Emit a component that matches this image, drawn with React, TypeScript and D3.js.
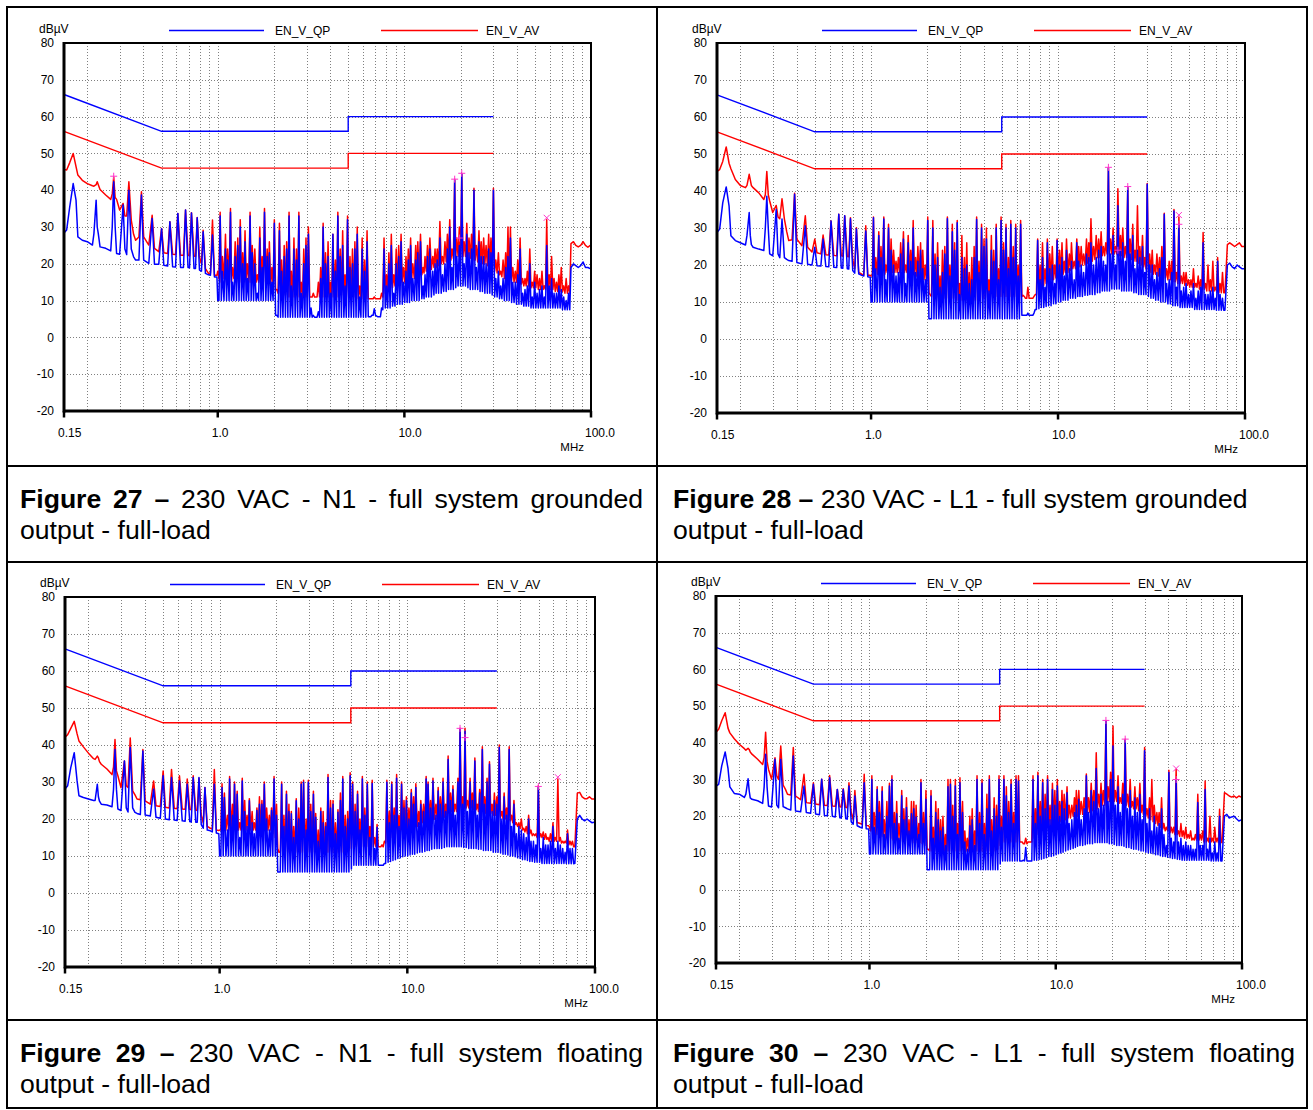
import React from 'react';
import * as d3 from 'd3';

// ---------- sweep frequencies (MHz) ----------
const FREQS = [
  0.150,0.155,0.161,0.168,0.174,0.178,0.188,0.200,0.213,0.217,
  0.223,0.226,0.229,0.234,0.251,0.267,0.272,0.277,0.282,0.287,
  0.298,0.311,0.318,0.325,0.334,0.344,0.354,0.363,0.378,0.390,
  0.401,0.427,0.445,0.458,0.483,0.500,0.514,0.539,0.554,0.573,
  0.594,0.611,0.632,0.655,0.672,0.693,0.706,0.723,0.746,0.760,
  0.776,0.798,0.818,0.835,0.859,0.892,0.914,0.937,0.960,0.990,
  1.00,1.03,1.06,1.10,1.13,1.17,1.20,1.24,1.28,1.32,
  1.36,1.40,1.44,1.49,1.53,1.58,1.63,1.68,1.73,1.78,
  1.84,1.89,1.95,2.01,2.07,2.14,2.20,2.27,2.34,2.41,
  2.48,2.56,2.64,2.72,2.80,2.89,2.97,3.06,3.16,3.25,
  3.35,3.46,3.56,3.67,3.78,3.90,4.02,4.14,4.27,4.40,
  4.53,4.67,4.81,4.96,5.11,5.27,5.43,5.59,5.76,5.94,
  6.12,6.31,6.50,6.70,6.90,7.11,7.33,7.55,7.78,8.02,
  8.26,8.51,8.77,9.04,9.32,9.60,9.89,10.2,10.5,10.8,
  11.1,11.5,11.8,12.2,12.6,12.9,13.3,13.7,14.2,14.6,
  15.0,15.5,16.0,16.5,17.0,17.5,18.0,18.6,19.1,19.7,
  20.3,20.9,21.6,22.2,22.9,23.6,24.3,25.1,25.8,26.6,
  27.4,28.3,29.1,30.0,30.9,31.9,32.8,33.8,34.9,35.9,
  37.0,38.1,39.3,40.5,41.7,43.0,44.3,45.6,47.0,48.4,
  49.9,51.4,53.0,54.6,56.2,57.9,59.7,61.5,63.4,65.3,
  67.3,69.3,71.4,73.6,75.8,78.1,80.5,82.9,85.4,88.0,
  90.7,93.4,96.2,99.0,
];
// in-between sweep points of the dense 1-78 MHz band (floor readings)
const FREQS_MID = [
  1.015,1.045,1.08,1.115,1.15,1.185,1.22,1.26,1.30,1.34,
  1.38,1.42,1.465,1.51,1.555,1.605,1.655,1.705,1.755,1.81,
  1.865,1.92,1.98,2.04,2.105,2.17,2.235,2.305,2.375,2.445,
  2.52,2.60,2.68,2.76,2.845,2.93,3.015,3.11,3.205,3.30,
  3.405,3.51,3.615,3.725,3.84,3.96,4.08,4.205,4.335,4.465,
  4.60,4.74,4.885,5.035,5.19,5.35,5.51,5.675,5.85,6.03,
  6.215,6.405,6.60,6.80,7.005,7.22,7.44,7.665,7.90,8.14,
  8.385,8.64,8.905,9.18,9.46,9.745,10.05,10.35,10.65,10.95,
  11.3,11.65,12.0,12.4,12.75,13.1,13.5,13.95,14.4,14.8,
  15.25,15.75,16.25,16.75,17.25,17.75,18.3,18.85,19.4,20.0,
  20.6,21.25,21.9,22.55,23.25,23.95,24.7,25.45,26.2,27.0,
  27.85,28.7,29.55,30.45,31.4,32.35,33.3,34.35,35.4,36.45,
  37.55,38.7,39.9,41.1,42.35,43.65,44.95,46.3,47.7,49.15,
  50.65,52.2,53.8,55.4,57.05,58.8,60.6,62.45,64.35,66.3,
  68.3,70.35,72.5,74.7,76.95,
];

// ---------- Figure 27 ----------
const RED_27 = [
  45.6,45.5,47.5,50,46.4,44.1,42.7,41.8,41.2,41.1,
  41.5,42.3,41.5,40.2,38.7,37.5,39,43.6,38,37.5,
  34.6,36.4,33,33,42.3,31.9,28,26.4,27.3,39.6,
  27.3,25.1,33.2,24.2,23.3,29.6,23,22.8,31.4,22.6,
  22.5,33.7,22.3,22.3,34.6,22.3,22.2,33.9,22.1,22,
  32.6,21.9,20,29.1,18.7,17.4,17.5,31.9,16.9,16.9,
  18,34,22,28,24,35,19,26,27,32,
  23,29,20,34,25,24,17,30,22,35,
  24,26,19,32,13,31,21,25,26,34,
  18,27,24,34,15,24,27,30,11,12,
  11,15,19,31,23,26,15,28,21,34,
  24,29,17,33,22,24,26,30,14,27,
  21,29,10.5,10.5,11,10.5,10.5,12,27,17,
  23,28,17,24,25,28,19,22,24,27,
  20,25,26,28,19,22,25,27,22,24,
  24,31.5,22,26,28,32,24,43,27,30,
  44.5,26,31,27,28,40.5,25,29,26,27,
  25,28,27,40.5,21,23,18,21,23,30,
  30,19,18,21,27,16,16,18,24,15,
  18,17,16,18,14,32,17,22,16,15,
  17,19,14,16,14,25.5,26,25,24.6,25,
  26,25,24.5,25,
];
const RED_27_MID = [
  16,15,16,15,16,15,16,15,16,15,
  15,16,15,15,16,15,15,16,15,15,
  15,14,14,13,12,12,11.5,11.5,11,11,
  11,11,11,11,11,11,11,11,11,11,
  11,11,11,11,11,11,11,11,11,11,
  11.5,11.5,11,11,11,11,11,10.5,10.5,10.5,
  10.5,10.5,10.5,10.5,10.5,10.5,10.5,11,12,13,
  13,13.5,14,14,14.5,15,15,15.5,16,16,
  16,16.5,17,17,17.5,18,18,18.5,19,19,
  19.5,20,20,20.5,21,21,21.5,22,22,22,
  22,22,21.5,21.5,21,21,20.5,20.5,20,20,
  19.5,19,18.5,18,17.5,17,16.5,16,16,15.5,
  15.5,15,15,14.5,14.5,14,14,14,13.5,13.5,
  13.5,13,13,13,13,13,13,13,12.5,12.5,
  12.5,12.5,12,12,12,
];
const BLUE_27 = [
  28.4,29.2,35.5,41.8,37.3,27.3,26.4,26,25.1,28.2,
  37.3,30,28.2,24.6,24.2,23.5,30,42.3,30,22.8,
  22.6,36,24,22.5,40,24,21.9,21,21,38.7,
  21,20.1,32.3,19.9,19.9,29.5,19.6,19.4,31.4,19.2,
  19.1,33.7,19,19,34.6,19,18.9,33.8,18.7,18.7,
  32.5,18.3,18,28.7,17.4,17,16.9,27.8,16.4,16.4,
  10,33,18,24,21,34,15,22,25,30,
  20,26,16,33,23,20,12,27,19,34,
  22,23,15,31,6,29,18,22,24,33,
  14,24,21,33,12,20,25,28,8,6,
  5.5,7,16,30,20,22,12,28,18,33,
  22,25,14,32,19,20,24,28,11,24,
  18,26,5.6,6,7.8,5.8,5.6,8,24,14,
  20,25,12,20,22,26,15,18,21,25,
  16,21,23,26,14,17,22,24,18,20,
  21,27,17,20,24,30,19,42.7,22,25,
  44.4,20,28,23,24,40,19,26,22,22,
  20,24,23,40,16,18,14,16,19,22,
  27,15,15,17,24,12,13,14,20,11,
  15,12,13,14,11,25,14,16,12,12,
  14,13,11,10,12,19,20,19.5,19,19.5,
  20.5,19,19,18.7,
];
const BLUE_27_MID = [
  10,10,10,10,10,10,10,10,10,10,
  10,10,10,10,10,10,10,10,10,10,
  10,10,10,6,5.5,5.5,5.5,5.5,5.5,5.5,
  5.5,5.5,5.5,5.5,5.5,5.5,5.5,5.5,5.5,5.5,
  5.5,5.5,5.5,5.5,5.5,5.5,5.5,5.5,5.5,5.5,
  5.5,5.5,5.5,5.5,5.5,5.5,5.5,5.5,5.5,5.5,
  5.5,5.6,5.6,6,6,5.6,5.6,7.5,8,8,
  8,8.5,8.5,9,9,9,9.5,9.5,9.5,10,
  10,10,10,10.5,10.5,11,11,11,11.5,12,
  12,12,12.5,12.5,13,13,13,13.5,14,14,
  14,14,13.5,13,13,13,13,12.5,12.5,12,
  12,12,11.5,11,11,10.5,10.5,10,10,10,
  9.5,9.5,9,9,9,8.5,8.5,8.5,8,8,
  8,8,8,8,8,8,8,8,8,8,
  8,7.5,7.5,7.5,7.5,
];
const MARKS_27 = [[0.277,43.8,'+'],[18.6,43,'+'],[20.3,44.6,'+'],[19.7,27,'+'],[57.9,32.5,'x']];

// ---------- Figure 28 ----------
const RED_28 = [
  45.3,45.8,48,51.9,47.5,46,43.1,41.5,40.9,41.5,
  44.5,43,41.5,40.9,39.5,37.7,39,45.3,39,37.3,
  34.2,36.1,33,32.5,37.9,32.4,29,26.6,26.8,39.4,
  27,25.2,33.3,24.8,23.5,27,23.3,23,28.1,22.8,
  22.7,31.9,22.6,22.5,33.7,22.5,22.4,33.3,22.3,22.2,
  32.8,21.5,19,30.1,18,17.5,17.3,30.6,17.2,17.2,
  17,33,22,29,25,33,20,31,27,24,
  21,22,26,29,20,28,24,32,22,25,
  26,24,20,33,12,32,23,26,17,24,
  25,33,20,31,26,32,15,28,22,26,
  18,22,25,33,21,31,27,30,16,28,
  24,31,19,33,26,31,22,32,25,31,
  20,32,11.8,11,14,11,11,12,27,20,
  26,19,27,23,25,20,27,24,26,21,
  27,23,26,21,27,25,25,23,27,26,
  32.5,25,28,27,29,25,26,46.2,27,30,
  25,40.6,28,30,25,41,27,31,24,36,
  25,28,22,42,23,24,20,23,22,25,
  34,19,21,21,35,18,33,17,18,18,
  16,16,19,15,17,16,28.8,15,20,16,
  21,14,22,15,18,12.5,25.5,26,25.5,25,
  25.5,26,25,25,
];
const RED_28_MID = [
  17,17,17.5,17,17,17.5,18,17.5,18,18,
  18,18,18.5,18,18,18,17.5,17.5,17,17,
  16.5,16,15,12.5,11.5,11,11,11,11,11,
  11,11,11,11,10.5,10.5,10.5,10.5,10.5,10.5,
  10.5,10.5,10.5,11,11,11,11,11,11.5,11.5,
  11.5,11.5,11.5,11.5,11.5,11.5,11.5,11.5,11.5,11.5,
  11.5,11.5,11.5,11,11,11,11.5,12,13,14,
  14.5,15,15.5,16,16,16.5,17,17,17.5,18,
  18,18.5,19,19,19.5,19.5,20,20,20.5,21,
  21,21.5,22,22,22.5,22.5,23,23,23,23,
  23,22.5,22.5,22,22,21.5,21.5,21,21,20.5,
  20,19.5,19,18.5,18,17.5,17.5,17,17,16.5,
  16.5,16,16,15.5,15.5,15,15,15,14.5,14.5,
  14,14,14,14,13.5,13.5,13.5,13,13,13,
  13,13,12.5,12.5,12.5,
];
const BLUE_28 = [
  28.8,29.7,36.8,41.1,36,27.9,26.6,26,25.4,28,
  34.2,28,25.5,24.8,24.3,23.9,30,38.6,30,23,
  22.5,35,23,22,32.4,22,21.5,21.2,21,39.1,
  20.7,20.3,30.6,20.2,20,24.8,19.8,19.7,27,19.6,
  19.5,31.9,19.4,19.3,33.7,19.2,19.1,33.3,19,18.9,
  32.5,18.5,17.8,29.7,17.6,17.2,17,29.2,16.8,16.7,
  10,32.8,19,28,22,32.4,16,30,24,20,
  17,18,23,27,15,26,21,30,18,21,
  24,19,16,32,5.5,30,20,22,14,18,
  23,32.5,17,29,24,31.4,12,22,19,20,
  15,16,22,32.3,18,30,25,27,13,24,
  21,30,16,32,24,30,19,31,22,30,
  17,31,6.4,6.4,7,6.4,6.4,8,26.6,16,
  22,14,26,19,20,15,26.6,20,22,17,
  24,19,21,16,26,21,20,18,23,22,
  26,20,22,24,25,21,20,46.2,23,28,
  20,36,24,26,21,40.9,23,28,19,24,
  22,25,18,41.8,20,20,16,18,19,22,
  33.7,15,16,18,34.6,14,31,13,14,15,
  12,13,15,11,13,14,26,12,12,13,
  14,11,21,12,11,7.8,20,20.5,19.5,19,
  20,19.5,19,19,
];
const BLUE_28_MID = [
  10,10,10,10,10,10,10,10,10,10,
  10,10,10,10,10,10,10,10,10,10,
  10,10,10,5.5,5.5,5.5,5.5,5.5,5.5,5.5,
  5.5,5.5,5.5,5.5,5.5,5.5,5.5,5.5,5.5,5.5,
  5.5,5.5,5.5,5.5,5.5,5.5,5.5,5.5,5.5,5.5,
  5.5,5.5,5.5,5.5,5.5,5.5,5.5,5.5,5.5,5.5,
  5.5,6.4,6.4,6.4,6.4,6.4,7,8,8.2,8.5,
  8.5,8.8,9,9,9.5,9.5,10,10,10.5,10.5,
  10.5,11,11,11,11.5,11.5,11.5,11.8,11.8,12,
  12,12,12.5,12.5,13,13,13,13,13.5,13.5,
  13.5,13.5,13,13,13,13,13,12.5,12.5,12,
  12,12,12,11.5,11,11,10.5,10.5,10,10,
  10,9.5,9.5,9,9,9,8.5,8.5,8.5,8.5,
  8.5,8.5,8,8,8,8,8,8,8,8,
  8,7.8,7.8,7.8,7.8,
];
const MARKS_28 = [[18.6,46.4,'+'],[20.9,24,'+'],[23.6,41.2,'+'],[44.3,33.5,'x'],[44.3,31,'+']];

// ---------- Figure 29 ----------
const RED_29 = [
  42.1,42.8,44.5,46.4,43,41.1,39.5,37.8,36.3,36.1,
  37,36.5,35.5,34.8,33.5,32,34,41.5,33,31.7,
  28.5,35.7,29,28.5,41.9,27.6,26.5,25.4,25.2,38.8,
  24.9,24,30.3,23.6,23.4,33,23.2,23,33.4,22.9,
  22.8,31.7,22.7,22.6,30.8,22.6,22.5,31.7,22.4,22.3,
  31,21,19,28.5,18,17.5,17.3,33.4,17,16.9,
  17,29.5,27,21,31.5,24,30,27.5,19,31,
  25,21,25.5,22,19,23,26,25,30,23,
  21,23,31.5,24,11,30,21,27.5,24,22,
  18,25.5,23,30,30.5,20,30.5,24,27.5,21.5,
  17,23,22,19,32,25,25,19,22.5,27,
  31.5,21,22,32.5,30,24,27.5,20,31.5,23,
  30,18,30.5,15,18.5,12.5,13,14,30.5,22,
  30,23,32,21,30,25,26,23,28,26,
  29.5,22,25,24,31.5,30,25,31,24,28.5,
  26,31,24,37,27,29,24,31,44.5,26,
  44.5,25,31,27,36.5,24,28,39.5,26,31,
  35.5,24,27,26,40,22,27,23,39.5,21,
  25,19,19,20,17.5,18,21,17,16,16,
  29,16,16.5,16,15,16,19,15,30.8,15,
  14,14,17,14,14,12.5,27,27.2,26,25.5,
  25.5,26,25.4,25.4,
];
const RED_29_MID = [
  17,17,17,17,17,17,17,17,17,17,
  17,17,17,17,17,17,17,17,17,17,
  17,16,15,12,11,11,11,11,11,11,
  11,11,11,11,11,11,11,11,11,11,
  11,11,11,11,11,11,11,11,11,11,
  11,11,11.5,12,12.5,12.5,12.5,12.5,12.5,12.5,
  12.5,12.5,12.5,12.5,12.5,12.5,12.5,13.5,14.5,15,
  15.5,16,16,16.5,17,17,17,17.5,18,18,
  18,18.5,19,19,19,19.5,19.5,20,20,20,
  20,20.5,21,21.5,22,22,22,22.5,23,23,
  23,23,23,22.5,22.5,22,22,22,21.5,21.5,
  21.5,21,21,20.5,20.5,20,20,19.5,19.5,19,
  18.5,18,17.5,17,16.5,16,16,15.5,15.5,15,
  15,15,14.5,14.5,14,14,14,14,14,13.5,
  13.5,13.5,13,13,12.5,
];
const BLUE_29 = [
  28.1,29,33.9,37.9,30.3,26.3,25.8,25.4,25,25,
  29.4,26,24.8,24,23.8,23.3,28,38.8,28,22.7,
  22.3,35.7,23,21.9,39.3,23,21.8,21.5,21.2,38.4,
  21.1,20.8,28.1,20.5,20.2,31.7,20,19.8,31.2,19.7,
  19.6,30.3,19.5,19.4,29.4,19.3,19.2,31.2,19.1,19.1,
  31.2,18.5,17.5,28.5,17,16.8,16.5,29.4,16.2,16,
  10,28.5,25.8,17,30.8,21,29.4,26.7,15,30.3,
  22,18,24.9,19,16,22.3,24,24,29.4,20,
  17,22.3,30.8,21,5.7,29.4,18,26.7,22,21.4,
  15,24.9,20,29.4,29.9,17,29.9,22,26.7,20.5,
  14,22,19,18,31.2,23,24,16,21.8,25,
  30.8,18,20,31.7,29.4,22,26.7,17,30.8,21,
  29.4,15,29.6,12,17.8,7.5,7.5,8,29.9,19,
  29.4,21,31,18,29.4,23,25,20,27,24,
  28.5,19,24,22,30.8,29.4,23,30.3,21,27.6,
  24,30,22,36.1,25,28,21,30,44.2,24,
  43.7,22,30,25,35.7,21,27,38.8,24,30,
  34.8,22,25,24,39.3,20,26,21,38.8,18,
  24,16,18,17,16,15,20,14,14,13,
  28.5,12,15,13,13,14,18,12,14,13,
  12,11,16,12,12,8,20,21,20,19.5,
  20,19.5,19,19.1,
];
const BLUE_29_MID = [
  10,10,10,10,10,10,10,10,10,10,
  10,10,10,10,10,10,10,10,10,10,
  10,10,10,5.7,5.7,5.7,5.7,5.7,5.7,5.7,
  5.7,5.7,5.7,5.7,5.7,5.7,5.7,5.7,5.7,5.7,
  5.7,5.7,5.7,5.7,5.7,5.7,5.7,5.7,5.7,5.7,
  5.7,5.7,5.7,6.5,7.5,7.5,7.5,7.5,7.5,7.5,
  7.5,7.5,7.5,7.5,7.5,7.5,7.5,8,8.3,8.5,
  8.8,9,9.3,9.5,9.8,10,10,10.3,10.5,10.5,
  10.8,11,11,11.2,11.5,11.5,11.8,12,12,12,
  12,12.3,12.5,12.5,12.5,12.5,12.5,12.5,12.5,12.3,
  12.3,12,12,12,12,11.8,11.8,11.5,11.5,11.5,
  11.5,11,11,11,10.8,10.5,10.5,10.3,10,10,
  9.8,9.5,9.3,9,9,8.8,8.5,8.5,8.3,8.3,
  8.3,8,8,8,8,8,8,8,8,8,
  8,8,7.9,7.9,7.9,
];
const MARKS_29 = [[19.1,44.5,'+'],[20.3,42,'+'],[49.9,28.8,'+'],[63.4,31.3,'x']];

// ---------- Figure 30 ----------
const RED_30 = [
  42.9,43.7,46,48.2,44,42.7,41.1,39.6,38.4,38,
  38.5,38.2,37.5,36.9,35.5,34.1,36,42.9,35,32.8,
  30.1,35.9,31,30,39.1,28.5,27.3,26,25.8,38.7,
  25.5,24.5,31.4,23.7,23.5,29.1,23.3,23.1,30.1,23,
  22.9,31.1,22.8,22.7,27.3,22.6,22.5,27.5,22.4,22.3,
  29.1,21,19,27,18.3,18,17.8,31.4,17.5,17.4,
  17,31,21,28,24,28,19,24,29,31,
  21,24,18,27,22,25,19,24,24,23,
  18,30,21,27,11,27,17,24,22,19,
  20,15,30,30,23,30,18,30.5,24,16,
  14,20,22,16,31,21,30,18,26,31,
  19,25,23,31,20,31,28,24,30,21,
  31,31,13,12.5,14,13,13,31,22,32,
  24,30,26,31,23,29,27,30,24,27,
  26,28,23,23,25,27,27,24,25,31.5,
  25,29,27,37.3,26,29,27,46,28,32,
  44.6,27,31,25,29,41,26,30,24,28,
  25,29,23,38.7,22,25,30,23,21,21,
  25,18,17,32.5,17,17,32.8,16,18,16,
  17,15,16,14,15,26,15,16,29.6,14,
  20,14,17,14,21.9,12.8,26.4,26,25.5,25.2,
  25.5,25,25.5,25.2,
];
const RED_30_MID = [
  16,15.5,15,15,14.5,14.5,14,14,14,13.5,
  13.5,13.5,13,13,13,13,13,12.8,12.8,12.8,
  12.8,12.5,12,11,10.5,10.5,10.5,10.5,10.5,10.5,
  10.5,10.5,10.5,10.5,10.5,10.5,10.5,10.5,10.5,10.5,
  10.5,10.5,10.5,10.5,10.5,10.5,10.5,10.5,10.5,10.5,
  10.5,10.5,11,12,13,13,13,13,13,13,
  13,13,13,12.5,12.5,13,13,14,15,15.5,
  16,16.5,17,17,17.5,18,18,18.5,18.5,19,
  19,19.5,19.5,20,20,20,20.5,20.5,21,21,
  21,21.5,22,22,22.5,23,23,23.5,24,24,
  24,24,23.5,23.5,23,23,22.5,22.5,22,22,
  21.5,21,20.5,20,19.5,19,18.5,18,17.5,17,
  16.5,16,16,15.5,15.5,15,15,14.5,14.5,14,
  14,14,13.5,13.5,13.5,13.5,13.5,13,13,13,
  13,13,13,12.8,12.8,
];
const BLUE_30 = [
  28.2,28.7,33.7,37.5,33,28,26.2,26,25.1,26,
  30.2,27,25,24.6,24.2,23.5,28,36.9,28,22.8,
  22.5,35.5,23,22.3,35.5,22.6,22.3,22,21.7,36.4,
  21.4,21.2,28.2,21,20.8,28.7,20.6,20.4,30.1,20.2,
  20.1,30.5,20,19.8,27.3,19.6,19.5,27.3,19.3,19.2,
  28.2,18.5,17.8,25.5,17.4,17,16.8,29.1,16.6,16.5,
  9.7,30,17,27.3,21,26.8,15,20,28.2,30,
  18,20.7,14,25.6,19,22.4,16,20.7,22,19.8,
  15,29.1,18,24.6,5.4,25.5,14,21,19,16,
  17,12,28,28.7,20,28.2,15,29.1,21,13,
  11,17.4,19,12,30,18,29,15,22,30,
  16,22,20,30,17,30,25.6,21,28.7,18,
  30,29.5,7.8,8,11.5,7.8,7.8,30,18,31,
  20,29.1,22,30,19,27.3,23,28.2,20,24,
  22,26.4,18,19,21,23,24.6,19,22,31,
  21,27,24,33,22,26,23,45.9,24,30,
  39.1,23,28,21,26,40.7,22,27,20,25,
  21,26,19,37.8,18,22,16,20,17,18,
  22,15,12,31.9,14,13,30,13,14,12,
  13,12,12,11,11,23.7,12,12,27.3,11,
  14,10,13,10,20,7.8,20,20.5,19.5,19.8,
  20,19.3,18.7,19,
];
const BLUE_30_MID = [
  9.7,9.7,9.7,9.7,9.7,9.7,9.7,9.7,9.7,9.7,
  9.7,9.7,9.7,9.7,9.7,9.7,9.7,9.7,9.7,9.7,
  9.7,9.7,9.7,5.4,5.4,5.4,5.4,5.4,5.4,5.4,
  5.4,5.4,5.4,5.4,5.4,5.4,5.4,5.4,5.4,5.4,
  5.4,5.4,5.4,5.4,5.4,5.4,5.4,5.4,5.4,5.4,
  5.4,5.4,5.4,7,7.8,7.8,7.8,7.8,7.8,7.8,
  7.8,7.8,7.8,7.8,7.8,7.8,7.8,8,8,8.2,
  8.3,8.5,8.7,9,9,9.2,9.5,9.8,10,10.2,
  10.5,10.8,11,11.2,11.5,11.8,12,12,12.2,12.5,
  12.5,12.5,12.8,12.8,12.8,12.8,12.8,12.8,12.5,12.5,
  12.3,12,12,12,11.8,11.5,11.5,11.2,11,11,
  10.8,10.5,10.5,10.2,10,10,9.8,9.5,9.5,9.2,
  9,9,8.8,8.7,8.5,8.5,8.3,8.2,8,8,
  8,8,8,8,8,8,8,8,8,8,
  7.8,7.8,7.8,7.8,7.8,
];
const MARKS_30 = [[18.6,46.1,'+'],[23.6,41,'+'],[44.3,33,'x'],[44.3,30,'+']];

// ---------- limits, axes ----------
const QP_LIMIT = [[0.15,66],[0.5,56],[5,56],[5,60],[30,60]];
const AV_LIMIT = [[0.15,56],[0.5,46],[5,46],[5,50],[30,50]];
const X_TICKS = [0.15, 1, 10, 100];
const X_TICK_LABELS = ['0.15', '1.0', '10.0', '100.0'];
const Y_TICKS = [80, 70, 60, 50, 40, 30, 20, 10, 0, -10, -20];
const GRID_FREQS = [0.2,0.3,0.4,0.5,0.6,0.7,0.8,0.9,1,2,3,4,5,6,7,8,9,10,20,30,40,50,60,70,80,90];
const LEGEND = ['EN_V_QP', 'EN_V_AV'];

const FONT = '"Liberation Sans", Arial, Helvetica, sans-serif';
const BLUE = '#0000ff';
const RED = '#ff0000';
const MAGENTA = '#ff33cc';

const PANELS = [
  { id: 'p27', left: 64, right: 591, top: 43, bottom: 411, red: RED_27, redMid: RED_27_MID, blue: BLUE_27, blueMid: BLUE_27_MID, marks: MARKS_27 },
  { id: 'p28', left: 717, right: 1245, top: 43, bottom: 413, red: RED_28, redMid: RED_28_MID, blue: BLUE_28, blueMid: BLUE_28_MID, marks: MARKS_28 },
  { id: 'p29', left: 65, right: 595, top: 597, bottom: 967, red: RED_29, redMid: RED_29_MID, blue: BLUE_29, blueMid: BLUE_29_MID, marks: MARKS_29 },
  { id: 'p30', left: 716, right: 1242, top: 596, bottom: 963, red: RED_30, redMid: RED_30_MID, blue: BLUE_30, blueMid: BLUE_30_MID, marks: MARKS_30 },
];

const CAPTIONS = [
  { num: 'Figure 27 –', text: '230 VAC - N1 - full system grounded', line2: 'output - full-load', x: 20, w: 623, y: 507.5, justify: true },
  { num: 'Figure 28 –', text: '230 VAC - L1 - full system grounded', line2: 'output - full-load', x: 673, w: 622, y: 507.5, justify: false },
  { num: 'Figure 29 –', text: '230 VAC - N1 - full system floating', line2: 'output - full-load', x: 20, w: 623, y: 1061.5, justify: true },
  { num: 'Figure 30 –', text: '230 VAC - L1 - full system floating', line2: 'output - full-load', x: 673, w: 622, y: 1061.5, justify: true },
];
const CAP_FS = 26.6;

let measureCtx: CanvasRenderingContext2D | null = null;
function measure(text: string, font: string) {
  if (!measureCtx) measureCtx = document.createElement('canvas').getContext('2d');
  measureCtx!.font = font;
  return measureCtx!.measureText(text).width;
}

function series(main: number[], mid: number[]) {
  const n = Math.min(FREQS.length, main.length);
  const m = Math.min(FREQS_MID.length, mid.length);
  const pts = d3.range(n).map((i) => [FREQS[i], main[i]]);
  const pts2 = d3.range(m).map((i) => [FREQS_MID[i], mid[i]]);
  return pts.concat(pts2).sort((a, b) => a[0] - b[0]);
}

function Panel({ cfg }: any) {
  const x = d3.scaleLog().domain([0.15, 100]).range([cfg.left, cfg.right]);
  const y = d3.scaleLinear().domain([-20, 80]).range([cfg.bottom, cfg.top]);
  const line = d3.line<any>().x((d) => x(d[0])).y((d) => y(d[1]));
  const redPts = series(cfg.red, cfg.redMid);
  const bluePts = series(cfg.blue, cfg.blueMid);
  const legY = cfg.top - 12.5;
  return (
    <g>
      <defs>
        <clipPath id={`clip-${cfg.id}`}>
          <rect x={cfg.left} y={cfg.top} width={cfg.right - cfg.left} height={cfg.bottom - cfg.top} />
        </clipPath>
      </defs>
      {GRID_FREQS.map((f) => (
        <line key={'gx' + f} x1={Math.round(x(f)) + 0.5} x2={Math.round(x(f)) + 0.5} y1={cfg.top} y2={cfg.bottom}
          stroke="#808080" strokeWidth={1} strokeDasharray="1,2" />
      ))}
      {Y_TICKS.filter((v) => v > -20 && v < 80).map((v) => (
        <line key={'gy' + v} x1={cfg.left} x2={cfg.right} y1={Math.round(y(v)) + 0.5} y2={Math.round(y(v)) + 0.5}
          stroke="#808080" strokeWidth={1} strokeDasharray="1,2" />
      ))}
      <path d={line(QP_LIMIT as any)!} fill="none" stroke={BLUE} strokeWidth={1.4} />
      <path d={line(AV_LIMIT as any)!} fill="none" stroke={RED} strokeWidth={1.4} />
      <g clipPath={`url(#clip-${cfg.id})`}>
        <path d={line(redPts as any)!} fill="none" stroke={RED} strokeWidth={1.5} strokeLinejoin="round" />
        <path d={line(bluePts as any)!} fill="none" stroke={BLUE} strokeWidth={1.5} strokeLinejoin="round" />
        {cfg.marks.map((m: any, i: number) => {
          const cx = x(m[0]), cy = y(m[1]);
          return m[2] === 'x' ? (
            <path key={i} d={`M${cx - 3},${cy - 3}L${cx + 3},${cy + 3}M${cx - 3},${cy + 3}L${cx + 3},${cy - 3}`} stroke={MAGENTA} strokeWidth={1} />
          ) : (
            <path key={i} d={`M${cx - 3.5},${cy}L${cx + 3.5},${cy}M${cx},${cy - 3.5}L${cx},${cy + 3.5}`} stroke={MAGENTA} strokeWidth={1} />
          );
        })}
      </g>
      <rect x={cfg.left} y={cfg.top} width={cfg.right - cfg.left} height={cfg.bottom - cfg.top} fill="none" stroke="#000" strokeWidth={2} />
      <line x1={cfg.left} x2={cfg.left} y1={cfg.top - 1} y2={cfg.bottom + 1.5} stroke="#000" strokeWidth={3} />
      <line x1={cfg.left} x2={cfg.right + 1} y1={cfg.bottom} y2={cfg.bottom} stroke="#000" strokeWidth={3} />
      {X_TICKS.map((t) => (
        <line key={'xt' + t} x1={x(t)} x2={x(t)} y1={cfg.bottom} y2={cfg.bottom + 6.5} stroke="#000" strokeWidth={2.5} />
      ))}
      <g fontFamily={FONT} fontSize={12} fill="#000">
        {Y_TICKS.map((v) => (
          <text key={'yl' + v} x={cfg.left - 10} y={y(v) + 4.2} textAnchor="end">{v}</text>
        ))}
        {X_TICKS.map((t, i) => (
          <text key={'xl' + t} x={x(t) - 6} y={cfg.bottom + 25.5}>{X_TICK_LABELS[i]}</text>
        ))}
        <text x={cfg.right - 7} y={cfg.bottom + 39.5} textAnchor="end" fontSize={11.5}>MHz</text>
        <text x={cfg.left - 25} y={cfg.top - 10}>dBµV</text>
        <line x1={cfg.left + 105} x2={cfg.left + 200} y1={legY} y2={legY} stroke={BLUE} strokeWidth={1.3} />
        <text x={cfg.left + 211} y={cfg.top - 8}>{LEGEND[0]}</text>
        <line x1={cfg.left + 317} x2={cfg.left + 414} y1={legY} y2={legY} stroke={RED} strokeWidth={1.3} />
        <text x={cfg.left + 422} y={cfg.top - 8}>{LEGEND[1]}</text>
      </g>
    </g>
  );
}

function Caption({ c }: any) {
  const boldFont = `bold ${CAP_FS}px "Liberation Sans"`;
  const regFont = `${CAP_FS}px "Liberation Sans"`;
  const words = [
    ...c.num.split(' ').map((w: string) => ({ w, b: true })),
    ...c.text.split(' ').map((w: string) => ({ w, b: false })),
  ];
  const widths = words.map((o: any) => measure(o.w, o.b ? boldFont : regFont));
  const total = d3.sum(widths);
  const gap = c.justify ? (c.w - total) / (words.length - 1) : measure(' ', regFont);
  let cur = c.x;
  const items = words.map((o: any, i: number) => {
    const xx = cur;
    cur += widths[i] + gap;
    return <text key={i} x={xx} y={c.y} fontWeight={o.b ? 'bold' : 'normal'}>{o.w}</text>;
  });
  return (
    <g fontFamily={FONT} fontSize={CAP_FS} fill="#000">
      {items}
      <text x={c.x} y={c.y + 31}>{c.line2}</text>
    </g>
  );
}

export default function App() {
  return (
    <svg width={1313} height={1110} style={{ position: 'absolute', left: 0, top: 0, background: '#fff' }}
      xmlns="http://www.w3.org/2000/svg">
      <rect x={0} y={0} width={1313} height={1110} fill="#fff" />
      {PANELS.map((p) => <Panel key={p.id} cfg={p} />)}
      {CAPTIONS.map((c, i) => <Caption key={i} c={c} />)}
      <g stroke="#000" strokeWidth={2} fill="none">
        <rect x={7} y={7} width={1300} height={1101} />
        <line x1={657} x2={657} y1={7} y2={1108} />
        <line x1={7} x2={1307} y1={466} y2={466} />
        <line x1={7} x2={1307} y1={562} y2={562} />
        <line x1={7} x2={1307} y1={1020} y2={1020} />
      </g>
    </svg>
  );
}
